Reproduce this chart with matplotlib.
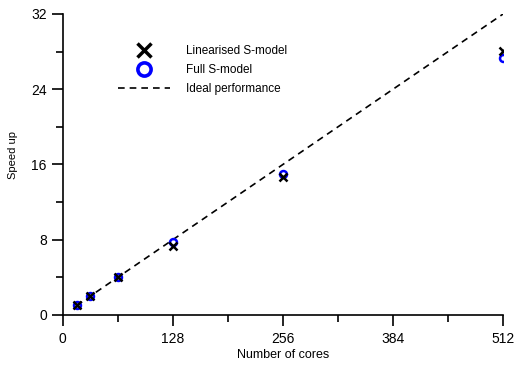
import numpy as np
import matplotlib.pyplot as plt
from matplotlib.lines import Line2D
from matplotlib.ticker import MultipleLocator

plt.rcParams['font.family'] = ['Liberation Sans', 'DejaVu Sans']

cores = [16, 32, 64, 128, 256, 512]
linearised = [1.0, 2.0, 4.0, 7.3, 14.65, 28.1]
full = [1.0, 2.0, 4.0, 7.75, 14.95, 27.3]
ideal_x = [16, 512]
ideal_y = [1, 32]

fig = plt.figure(figsize=(5.15, 3.67), dpi=100)
ax = fig.add_axes([0.122, 0.142, 0.855, 0.82])

ax.plot(ideal_x, ideal_y, color='black', linestyle=(0, (4, 3)), linewidth=1.2, zorder=1)
ax.plot(cores, full, linestyle='none', marker='o', markersize=5, markerfacecolor='none',
        markeredgecolor='blue', markeredgewidth=1.8, zorder=2)
ax.plot(cores, linearised, linestyle='none', marker='x', markersize=5.5,
        markeredgecolor='black', markeredgewidth=1.8, zorder=3)

ax.set_xlim(0, 512)
ax.set_ylim(0, 32)
ax.xaxis.set_major_locator(MultipleLocator(128))
ax.xaxis.set_minor_locator(MultipleLocator(64))
ax.yaxis.set_major_locator(MultipleLocator(8))
ax.yaxis.set_minor_locator(MultipleLocator(4))
ax.tick_params(which='major', direction='out', length=8, width=1.2, labelsize=10)
ax.tick_params(axis='x', which='major', pad=4)
ax.tick_params(axis='y', which='major', pad=3.5)
ax.tick_params(which='minor', direction='out', length=5, width=1.2)
for s in ['top', 'right']:
    ax.spines[s].set_visible(False)
for s in ['left', 'bottom']:
    ax.spines[s].set_linewidth(1.2)

ax.set_xlabel('Number of cores', fontsize=9)
ax.set_ylabel('Speed up', fontsize=8)
ax.xaxis.set_label_coords(0.5, -0.113)
ax.yaxis.set_label_coords(-0.102, 0.53)

# legend uses bigger, bolder markers than the plot
leg_handles = [
    Line2D([], [], linestyle='none', marker='x', markersize=10, markeredgecolor='black',
           markeredgewidth=2.5),
    Line2D([], [], linestyle='none', marker='o', markersize=9.5, markerfacecolor='none',
           markeredgecolor='blue', markeredgewidth=2.6),
    Line2D([], [], color='black', linestyle=(0, (4, 3)), linewidth=1.2),
]
leg_labels = ['Linearised S-model', 'Full S-model', 'Ideal performance']
ax.legend(leg_handles, leg_labels,
          loc='upper left', bbox_to_anchor=(0.125, 0.898), frameon=False, fontsize=8.5,
          handlelength=4.4, labelspacing=0.62, handletextpad=1.35,
          borderpad=0, borderaxespad=0)

fig.savefig('out.png', dpi=100)
